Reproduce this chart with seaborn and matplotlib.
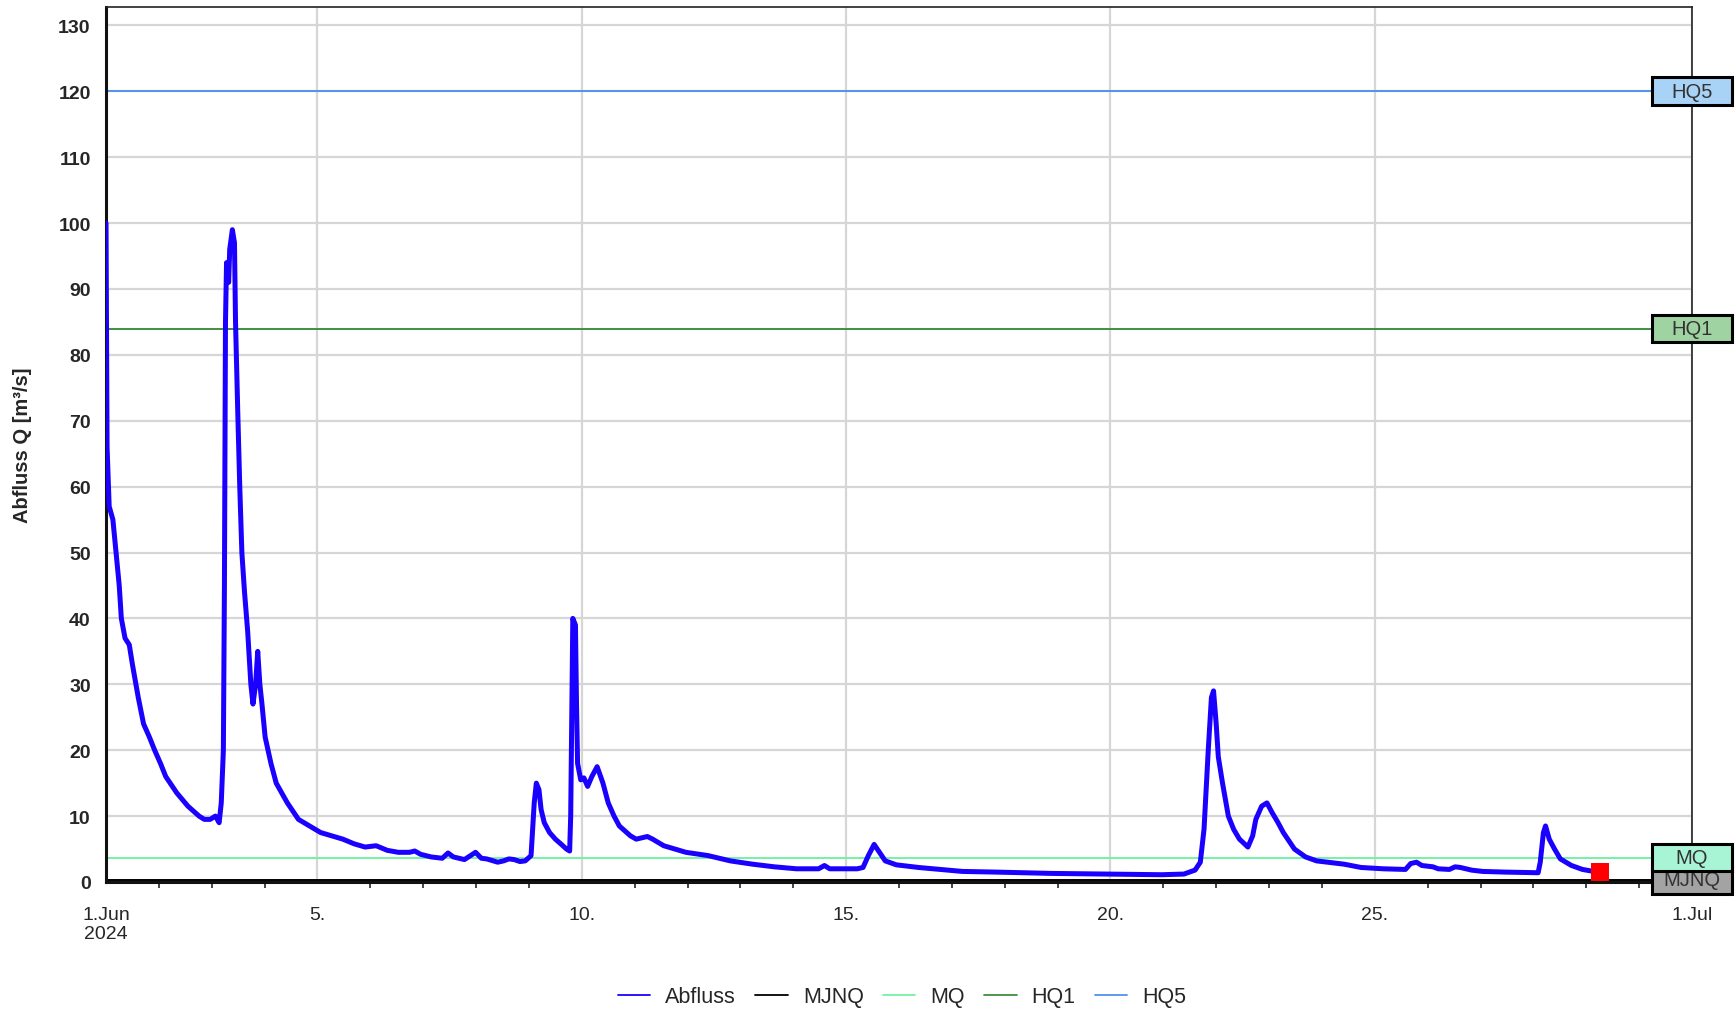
import matplotlib
matplotlib.use("Agg")
import matplotlib.dates as mdates
import matplotlib.patches as mpatches
import matplotlib.pyplot as plt
import pandas as pd
import seaborn as sns
from matplotlib.lines import Line2D
from matplotlib.ticker import FuncFormatter, MultipleLocator

START = pd.Timestamp("2024-06-01")
END = pd.Timestamp("2024-07-01")

# time in days after 1 Jun 00:00, discharge in m³/s
days = [
    0.00, 0.02, 0.06, 0.13, 0.19, 0.25, 0.29, 0.36, 0.44, 0.50, 0.61, 0.71, 0.82, 0.92,
    1.03, 1.13, 1.34, 1.55, 1.76, 1.86, 1.97, 2.07, 2.14, 2.18, 2.22, 2.24, 2.26, 2.28,
    2.32, 2.34, 2.39, 2.43, 2.45, 2.49, 2.53, 2.57, 2.62, 2.68, 2.74, 2.78, 2.83, 2.87,
    2.91, 2.95, 3.01, 3.12, 3.22, 3.43, 3.64, 3.85, 4.06, 4.27, 4.48, 4.69, 4.90, 5.11,
    5.32, 5.53, 5.74, 5.84, 5.95, 6.15, 6.36, 6.47, 6.57, 6.78, 6.99, 7.10, 7.20, 7.41,
    7.52, 7.62, 7.72, 7.83, 7.93, 8.04, 8.10, 8.14, 8.19, 8.23, 8.29, 8.39, 8.50, 8.60,
    8.71, 8.77, 8.79, 8.81, 8.83, 8.88, 8.90, 8.92, 8.98, 9.04, 9.11, 9.19, 9.29, 9.40,
    9.50, 9.61, 9.71, 9.92, 10.03, 10.24, 10.34, 10.55, 10.76, 10.97, 11.39, 11.81,
    12.23, 12.64, 13.06, 13.48, 13.59, 13.69, 14.21, 14.32, 14.42, 14.53, 14.63, 14.74,
    14.95, 15.37, 15.78, 16.20, 16.83, 17.88, 18.92, 19.97, 20.39, 20.60, 20.70, 20.77,
    20.85, 20.91, 20.95, 21.00, 21.04, 21.12, 21.23, 21.33, 21.44, 21.60, 21.69, 21.75,
    21.86, 21.96, 22.06, 22.17, 22.27, 22.48, 22.69, 22.90, 23.11, 23.42, 23.74, 24.16,
    24.58, 24.68, 24.79, 24.89, 25.10, 25.20, 25.41, 25.52, 25.62, 25.83, 26.04, 26.46,
    27.09, 27.13, 27.19, 27.23, 27.30, 27.40, 27.51, 27.72, 27.93, 28.14, 28.26,
]
flow = [
    100.0, 66.0, 57.0, 55.0, 50.0, 45.0, 40.0, 37.0, 36.0, 33.0, 28.0, 24.0, 22.0, 20.0,
    18.0, 16.0, 13.5, 11.5, 10.0, 9.5, 9.5, 10.0, 9.0, 12.0, 20.0, 45.0, 85.0, 94.0,
    91.0, 96.0, 99.0, 97.0, 85.0, 72.0, 60.0, 50.0, 44.0, 38.0, 30.0, 27.0, 30.0, 35.0,
    30.0, 27.0, 22.0, 18.0, 15.0, 12.0, 9.5, 8.5, 7.5, 7.0, 6.5, 5.8, 5.3, 5.5,
    4.8, 4.5, 4.5, 4.7, 4.2, 3.8, 3.6, 4.4, 3.8, 3.4, 4.5, 3.6, 3.5, 3.0,
    3.2, 3.5, 3.4, 3.1, 3.2, 4.0, 12.0, 15.0, 14.0, 11.0, 9.0, 7.5, 6.5, 5.8,
    5.0, 4.7, 10.0, 25.0, 40.0, 39.0, 27.0, 18.0, 15.5, 15.8, 14.5, 16.0, 17.5, 15.0,
    12.0, 10.0, 8.5, 7.0, 6.5, 6.9, 6.5, 5.5, 5.0, 4.5, 4.0, 3.2,
    2.7, 2.3, 2.0, 2.0, 2.5, 2.0, 2.0, 2.2, 4.0, 5.7, 4.5, 3.2,
    2.6, 2.2, 1.9, 1.6, 1.5, 1.3, 1.2, 1.1, 1.2, 1.8, 3.0, 8.0,
    20.0, 28.0, 29.0, 24.0, 19.0, 15.0, 10.0, 8.0, 6.5, 5.3, 7.0, 9.5,
    11.5, 12.0, 10.5, 9.0, 7.5, 5.0, 3.8, 3.2, 3.0, 2.7, 2.2, 2.0,
    1.9, 2.8, 3.0, 2.5, 2.3, 2.0, 1.9, 2.3, 2.2, 1.8, 1.6, 1.5,
    1.4, 3.0, 7.5, 8.5, 6.5, 5.0, 3.5, 2.5, 1.9, 1.6, 1.5,
]

levels = ["MJNQ", "MQ", "HQ1", "HQ5"]
level_values = [0.3, 3.7, 84.0, 120.0]
level_colors = ["#000000", "#74f2a4", "#3f8f3f", "#4f93ef"]
box_colors = ["#a3a3a3", "#a8f5d6", "#9fd3a2", "#a9d2f7"]
FLOW_COLOR = "#1a00ff"


def fmt_day(x, pos):
    d = mdates.num2date(x)
    if d.day == 1:
        return f"1.{d:%b}" + ("\n2024" if d.month == 6 else "")
    return f"{d.day}."


def main() -> None:
    sns.set_style("white")
    plt.rcParams["font.family"] = ["Liberation Sans", "DejaVu Sans"]

    df = pd.DataFrame({"time": START + pd.to_timedelta(days, unit="D"), "flow": flow})

    fig = plt.figure(figsize=(17.35, 10.12), dpi=100)
    ax = fig.add_axes([0.0611, 0.1275, 0.9141, 0.8646])

    for name, val, col in zip(levels, level_values, level_colors):
        ax.axhline(val, color=col, lw=1.4, zorder=2)
    sns.lineplot(data=df, x="time", y="flow", ax=ax, color=FLOW_COLOR, lw=3.6, zorder=3)
    sns.scatterplot(x=df["time"].iloc[-1:], y=df["flow"].iloc[-1:], ax=ax, marker="s",
                    s=170, color="#ff0000", edgecolor="none", zorder=4)

    ax.set_xlim(START, END)
    ax.set_ylim(0, 132.8)
    ax.yaxis.set_major_locator(MultipleLocator(10))
    ax.xaxis.set_major_locator(mdates.DayLocator(bymonthday=[1, 5, 10, 15, 20, 25]))
    ax.xaxis.set_minor_locator(mdates.DayLocator())
    ax.xaxis.set_major_formatter(FuncFormatter(fmt_day))

    ax.grid(True, which="major", color="#d6d6d6", lw=1.6, zorder=0)
    ax.set_axisbelow(True)
    ax.tick_params(axis="y", which="major", direction="out", length=7, width=1.6,
                   color="#222222", labelsize=14, pad=4)
    ax.tick_params(axis="x", which="major", direction="out", length=10, width=1.6,
                   color="#222222", labelsize=14, pad=7)
    ax.tick_params(axis="x", which="minor", direction="out", length=4, width=1.4,
                   color="#444444", bottom=True)
    for lab in ax.get_yticklabels():
        lab.set_fontweight("bold")

    for side in ["left", "bottom"]:
        ax.spines[side].set_linewidth(2.2)
        ax.spines[side].set_color("#111111")
    for side in ["top", "right"]:
        ax.spines[side].set_linewidth(1.2)
        ax.spines[side].set_color("#222222")

    ax.set_xlabel("")
    ax.set_ylabel("Abfluss Q [m³/s]", fontsize=14.5, fontweight="bold", labelpad=19)

    # threshold boxes on the right edge
    trans = ax.get_yaxis_transform()
    half_h = 2.1
    for i, (name, val, fc) in enumerate(zip(levels, level_values, box_colors)):
        rect = mpatches.Rectangle((0.9748, val - half_h), 0.0504, 2 * half_h, transform=trans,
                                  facecolor=fc, edgecolor="#000000", lw=2.2,
                                  clip_on=False, zorder=6 + 2 * i)
        ax.add_patch(rect)
        ax.text(1.0, val, name, transform=trans, ha="center", va="center", fontsize=14.5,
                color="#333333", clip_on=False, zorder=7 + 2 * i)

    handles = [Line2D([], [], color=FLOW_COLOR, lw=1.3)]
    handles += [Line2D([], [], color=c, lw=1.3) for c in level_colors]
    fig.legend(handles, ["Abfluss"] + levels, loc="center", bbox_to_anchor=(0.52, 0.014),
               ncol=5, frameon=False, fontsize=15.5, handlelength=1.5, handletextpad=0.7,
               columnspacing=0.9)

    fig.savefig("out.png", dpi=100)
    plt.close(fig)


if __name__ == "__main__":
    main()
